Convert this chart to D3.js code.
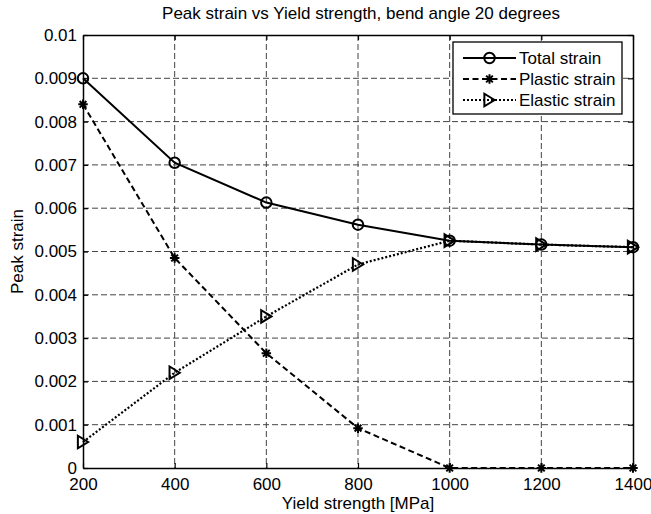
<!DOCTYPE html>
<html>
<head>
<meta charset="utf-8">
<script src="https://cdn.jsdelivr.net/npm/d3@7/dist/d3.min.js"></script>
<style>
  html, body { margin: 0; padding: 0; background: #fff; }
  svg text { font-family: "Liberation Sans", Arial, Helvetica, sans-serif; fill: #000; }
</style>
</head>
<body>
<svg id="chart" width="651" height="514"></svg>
<script>
// ---- data ----
const yieldStrength = [200, 400, 600, 800, 1000, 1200, 1400];
const totalStrain   = [0.0090, 0.00705, 0.00613, 0.00562, 0.00525, 0.00516, 0.00510];
const plasticStrain = [0.0084, 0.00485, 0.00265, 0.00092, 0.0, 0.0, 0.0];
const elasticStrain = [0.0006, 0.0022, 0.0035, 0.0047, 0.00525, 0.00516, 0.00510];
const xTicks = [200, 400, 600, 800, 1000, 1200, 1400];
const yTicks = [0, 0.001, 0.002, 0.003, 0.004, 0.005, 0.006, 0.007, 0.008, 0.009, 0.01];
const seriesNames = ["Total strain", "Plastic strain", "Elastic strain"];
const titleText = "Peak strain vs Yield strength, bend angle 20 degrees";
const xLabel = "Yield strength [MPa]";
const yLabel = "Peak strain";

// ---- layout ----
const L = 83, R = 633, T = 35, B = 468;
const svg = d3.select("#chart");
const x = d3.scaleLinear().domain([200, 1400]).range([L, R]);
const y = d3.scaleLinear().domain([0, 0.01]).range([B, T]);
const FS = "17px";

// grid
const grid = svg.append("g").attr("stroke", "#444").attr("stroke-width", 1)
  .attr("stroke-dasharray", "6,3").attr("fill", "none");
xTicks.slice(1, -1).forEach(v => grid.append("line")
  .attr("x1", x(v)).attr("x2", x(v)).attr("y1", T).attr("y2", B));
yTicks.slice(1, -1).forEach(v => grid.append("line")
  .attr("x1", L).attr("x2", R).attr("y1", y(v)).attr("y2", y(v)));

// axes with inward ticks
const fmtY = d => d === 0 ? "0" : String(+d.toFixed(3));
const fmtX = d => String(d);
const axB = svg.append("g").attr("transform", `translate(0,${B})`)
  .call(d3.axisBottom(x).tickValues(xTicks).tickSizeInner(-5).tickSizeOuter(0).tickPadding(10).tickFormat(fmtX));
const axT = svg.append("g").attr("transform", `translate(0,${T})`)
  .call(d3.axisTop(x).tickValues(xTicks).tickSizeInner(-5).tickSizeOuter(0).tickFormat(""));
const axL = svg.append("g").attr("transform", `translate(${L},0)`)
  .call(d3.axisLeft(y).tickValues(yTicks).tickSizeInner(-5).tickSizeOuter(0).tickPadding(6).tickFormat(fmtY));
const axR = svg.append("g").attr("transform", `translate(${R},0)`)
  .call(d3.axisRight(y).tickValues(yTicks).tickSizeInner(-5).tickSizeOuter(0).tickFormat(""));
[axB, axT, axL, axR].forEach(g => {
  g.select(".domain").attr("stroke", "#000").attr("stroke-width", 1.5);
  g.selectAll(".tick line").attr("stroke", "#000").attr("stroke-width", 1.2);
  g.selectAll(".tick text").attr("font-size", FS)
    .attr("font-family", '"Liberation Sans", Arial, sans-serif').attr("fill", "#000");
});
axB.selectAll(".tick text").attr("dy", "0.71em");

// custom marker symbols
const starSym = { draw(ctx, size) {
  const r = Math.sqrt(size) / 2;
  for (let i = 0; i < 4; i++) {
    const a = i * Math.PI / 4;
    ctx.moveTo(-r * Math.cos(a), -r * Math.sin(a));
    ctx.lineTo(r * Math.cos(a), r * Math.sin(a));
  }
}};
const triRightSym = { draw(ctx, size) {
  const h = Math.sqrt(size) / 2;
  ctx.moveTo(h * 0.9, 0);
  ctx.lineTo(-h * 0.9, -h * 1.1);
  ctx.lineTo(-h * 0.9, h * 1.1);
  ctx.closePath();
}};
const circSym = { draw(ctx, size) {
  const r = Math.sqrt(size) / 2;
  ctx.moveTo(r, 0);
  ctx.arc(0, 0, r, 0, 2 * Math.PI);
}};

const series = [
  { name: seriesNames[0], values: totalStrain,   dash: null,    sym: circSym,     size: 110, sw: 2 },
  { name: seriesNames[1], values: plasticStrain, dash: "6,3.5", sym: starSym,     size: 90,  sw: 2 },
  { name: seriesNames[2], values: elasticStrain, dash: "2,2",   sym: triRightSym, size: 130, sw: 2.2 }
];

const line = d3.line().x((d, i) => x(yieldStrength[i])).y(d => y(d));
const plot = svg.append("g");
series.forEach(s => {
  plot.append("path").datum(s.values).attr("d", line)
    .attr("fill", "none").attr("stroke", "#000").attr("stroke-width", s.sw)
    .attr("stroke-dasharray", s.dash);
  plot.selectAll(null).data(s.values).enter().append("path")
    .attr("transform", (d, i) => `translate(${x(yieldStrength[i])},${y(d)})`)
    .attr("d", d3.symbol().type(s.sym).size(s.size))
    .attr("fill", "none").attr("stroke", "#000").attr("stroke-width", 2);
});

// legend
const lg = svg.append("g");
lg.append("rect").attr("x", 453).attr("y", 42).attr("width", 169).attr("height", 72)
  .attr("fill", "#fff").attr("stroke", "#000").attr("stroke-width", 1.3);
series.forEach((s, i) => {
  const yy = 58 + i * 21;
  lg.append("line").attr("x1", 463).attr("x2", 516).attr("y1", yy).attr("y2", yy)
    .attr("stroke", "#000").attr("stroke-width", s.sw).attr("stroke-dasharray", s.dash);
  lg.append("path").attr("transform", `translate(489.5,${yy})`)
    .attr("d", d3.symbol().type(s.sym).size(s.size))
    .attr("fill", "none").attr("stroke", "#000").attr("stroke-width", 2);
  lg.append("text").attr("x", 519).attr("y", yy).attr("dy", "0.35em")
    .attr("font-size", FS).text(s.name);
});

// titles
svg.append("text").attr("x", (L + R) / 2 + 3).attr("y", 19).attr("text-anchor", "middle")
  .attr("font-size", FS).text(titleText);
svg.append("text").attr("x", (L + R) / 2).attr("y", 509).attr("text-anchor", "middle")
  .attr("font-size", FS).text(xLabel);
svg.append("text").attr("transform", `translate(23,${(T + B) / 2}) rotate(-90)`)
  .attr("text-anchor", "middle").attr("font-size", FS).text(yLabel);
</script>
</body>
</html>
